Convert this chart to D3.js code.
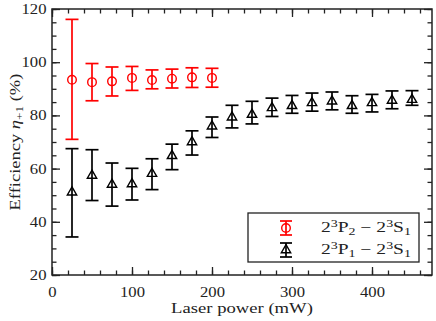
<!DOCTYPE html>
<html>
<head>
  <script src="https://d3js.org/d3.v7.min.js"></script>
  <style>
    body { margin: 0; background: white; }
    text { font-family: "Liberation Serif", serif; font-size: 14px; fill: #222; }
  </style>
</head>
<body>
<svg id="chart" width="436" height="321"></svg>
<script>
  // laser power (mW)
  var powerP2 = [25, 50, 75, 100, 125, 150, 175, 200];
  var effP2 = [93.4, 92.5, 92.8, 94.1, 93.3, 93.8, 94.3, 94.1];
  var lowP2 = [71.0, 85.5, 87.3, 89.4, 90.0, 90.3, 90.5, 90.6];
  var highP2 = [116.1, 99.5, 98.2, 98.4, 97.1, 97.4, 97.9, 97.7];

  var powerP1 = [25, 50, 75, 100, 125, 150, 175, 200, 225, 250, 275, 300, 325, 350, 375, 400, 425, 450];
  var effP1 = [51.1, 57.4, 54.0, 54.2, 58.1, 64.8, 70.0, 75.9, 79.3, 80.3, 82.8, 83.6, 84.7, 85.3, 83.6, 84.7, 85.6, 85.9];
  var lowP1 = [34.3, 48.0, 45.9, 48.2, 52.1, 59.6, 65.1, 71.7, 75.3, 76.8, 79.6, 80.8, 81.6, 82.1, 80.8, 81.3, 82.5, 83.8];
  var highP1 = [67.5, 67.1, 62.1, 60.1, 63.7, 69.2, 74.2, 79.4, 83.8, 85.3, 86.5, 87.5, 88.4, 88.8, 87.4, 87.9, 89.2, 89.3];

  var xTicks = [0, 100, 200, 300, 400];
  var yTicks = [20, 40, 60, 80, 100, 120];

  var svg = d3.select("#chart");
  var pl = 52, pr = 432, pt = 9, pb = 275;
  var sx = 1.19; // original font is wider than Times: stretch horizontally

  var x = d3.scaleLinear([0, 475], [pl, pr]);
  var y = d3.scaleLinear([20, 120], [pb, pt]);

  // frame
  svg.append("rect")
    .attr("x", pl).attr("y", pt)
    .attr("width", pr - pl).attr("height", pb - pt)
    .attr("fill", "none").attr("stroke", "#222").attr("stroke-width", 1.5);

  function tickStyle(g) {
    g.attr("font-family", null).attr("font-size", null);
    g.select(".domain").remove();
    g.selectAll(".tick line").attr("stroke", "#222").attr("stroke-width", 1.3);
    g.selectAll(".tick text").attr("fill", null);
  }

  var xMinor = d3.range(0, 476, 20);
  var yMinor = d3.range(20, 121, 5);

  // bottom & top ticks (inward)
  svg.append("g").attr("transform", `translate(0,${pb})`)
    .call(d3.axisBottom(x).tickValues(xMinor).tickSize(-4.5).tickFormat(""))
    .call(tickStyle);
  svg.append("g").attr("transform", `translate(0,${pb})`)
    .call(d3.axisBottom(x).tickValues(xTicks).tickSize(-8).tickPadding(12))
    .call(tickStyle)
    .call(g => g.selectAll(".tick text").attr("transform", `scale(${sx},1)`));
  svg.append("g").attr("transform", `translate(0,${pt})`)
    .call(d3.axisTop(x).tickValues(xMinor).tickSize(-4.5).tickFormat(""))
    .call(tickStyle);
  svg.append("g").attr("transform", `translate(0,${pt})`)
    .call(d3.axisTop(x).tickValues(xTicks).tickSize(-8).tickFormat(""))
    .call(tickStyle);

  // left & right ticks
  svg.append("g").attr("transform", `translate(${pl},0)`)
    .call(d3.axisLeft(y).tickValues(yMinor).tickSize(-4.5).tickFormat(""))
    .call(tickStyle);
  svg.append("g").attr("transform", `translate(${pl},0)`)
    .call(d3.axisLeft(y).tickValues(yTicks).tickSize(-8).tickPadding(13))
    .call(tickStyle)
    .call(g => g.selectAll(".tick text").attr("x", -5.5 / sx).attr("transform", `scale(${sx},1)`));
  svg.append("g").attr("transform", `translate(${pr},0)`)
    .call(d3.axisRight(y).tickValues(yMinor).tickSize(-4.5).tickFormat(""))
    .call(tickStyle);
  svg.append("g").attr("transform", `translate(${pr},0)`)
    .call(d3.axisRight(y).tickValues(yTicks).tickSize(-8).tickFormat(""))
    .call(tickStyle);

  // stretch a text to a wanted width
  function fit(t, w, pre) {
    var k = w / t.node().getComputedTextLength();
    t.attr("transform", `${pre} scale(${k},1)`);
  }

  // axis titles
  var xl = svg.append("text")
    .attr("text-anchor", "middle")
    .text("Laser power (mW)");
  fit(xl, 142, `translate(${(pl + pr) / 2},313)`);

  var yl = svg.append("text")
    .attr("text-anchor", "middle");
  yl.append("tspan").text("Efficiency ");
  yl.append("tspan").attr("font-style", "italic").text("η");
  yl.append("tspan").attr("font-size", "10px").attr("dy", 3).text("+1");
  yl.append("tspan").attr("dy", -3).text(" (%)");
  fit(yl, 137, "translate(20,142) rotate(-90)");

  var cap = 6.5;

  function errorBars(g, xs, lo, hi, color) {
    var sel = g.selectAll("g.eb").data(xs.map((d, i) => ({ x: d, lo: lo[i], hi: hi[i] })))
      .join("g").attr("class", "eb")
      .attr("stroke", color).attr("stroke-width", 1.7);
    sel.append("line")
      .attr("x1", d => x(d.x)).attr("x2", d => x(d.x))
      .attr("y1", d => y(d.lo)).attr("y2", d => y(d.hi));
    sel.append("line")
      .attr("x1", d => x(d.x) - cap).attr("x2", d => x(d.x) + cap)
      .attr("y1", d => y(d.lo)).attr("y2", d => y(d.lo));
    sel.append("line")
      .attr("x1", d => x(d.x) - cap).attr("x2", d => x(d.x) + cap)
      .attr("y1", d => y(d.hi)).attr("y2", d => y(d.hi));
  }

  var tri = d3.symbol(d3.symbolTriangle, 38);

  var gP1 = svg.append("g");
  errorBars(gP1, powerP1, lowP1, highP1, "#000");
  gP1.selectAll("path.m").data(powerP1).join("path").attr("class", "m")
    .attr("d", tri)
    .attr("transform", (d, i) => `translate(${x(d)},${y(effP1[i])})`)
    .attr("fill", "none").attr("stroke", "#000").attr("stroke-width", 1.4);

  var gP2 = svg.append("g");
  errorBars(gP2, powerP2, lowP2, highP2, "#f00");
  gP2.selectAll("circle").data(powerP2).join("circle")
    .attr("cx", d => x(d)).attr("cy", (d, i) => y(effP2[i]))
    .attr("r", 4.3)
    .attr("fill", "none").attr("stroke", "#f00").attr("stroke-width", 1.4);

  // legend
  var lg = svg.append("g");
  lg.append("rect")
    .attr("x", 248).attr("y", 213).attr("width", 171).attr("height", 49)
    .attr("fill", "white").attr("stroke", "#222").attr("stroke-width", 1.3);

  var legendItems = [
    { color: "#f00", sym: "circle", sub: "2", y: 228 },
    { color: "#000", sym: "tri", sub: "1", y: 250 }
  ];
  legendItems.forEach(function (it) {
    var mx = 286;
    var g = lg.append("g").attr("stroke", it.color).attr("stroke-width", 1.7);
    g.append("line").attr("x1", mx).attr("x2", mx).attr("y1", it.y - 7).attr("y2", it.y + 7);
    g.append("line").attr("x1", mx - 6).attr("x2", mx + 6).attr("y1", it.y - 7).attr("y2", it.y - 7);
    g.append("line").attr("x1", mx - 6).attr("x2", mx + 6).attr("y1", it.y + 7).attr("y2", it.y + 7);
    if (it.sym === "circle") {
      g.append("circle").attr("cx", mx).attr("cy", it.y).attr("r", 4.3).attr("fill", "none").attr("stroke-width", 1.4);
    } else {
      g.append("path").attr("d", tri).attr("transform", `translate(${mx},${it.y})`).attr("fill", "none").attr("stroke-width", 1.4);
    }
    var t = lg.append("text");
    t.append("tspan").text("2");
    t.append("tspan").attr("font-size", "10px").attr("dy", -5).text("3");
    t.append("tspan").attr("dy", 5).text("P");
    t.append("tspan").attr("font-size", "10px").attr("dy", 3).text(it.sub);
    t.append("tspan").attr("dy", -3).text(" − 2");
    t.append("tspan").attr("font-size", "10px").attr("dy", -5).text("3");
    t.append("tspan").attr("dy", 5).text("S");
    t.append("tspan").attr("font-size", "10px").attr("dy", 3).text("1");
    fit(t, 90, `translate(321,${it.y + 4})`);
  });
</script>
</body>
</html>
